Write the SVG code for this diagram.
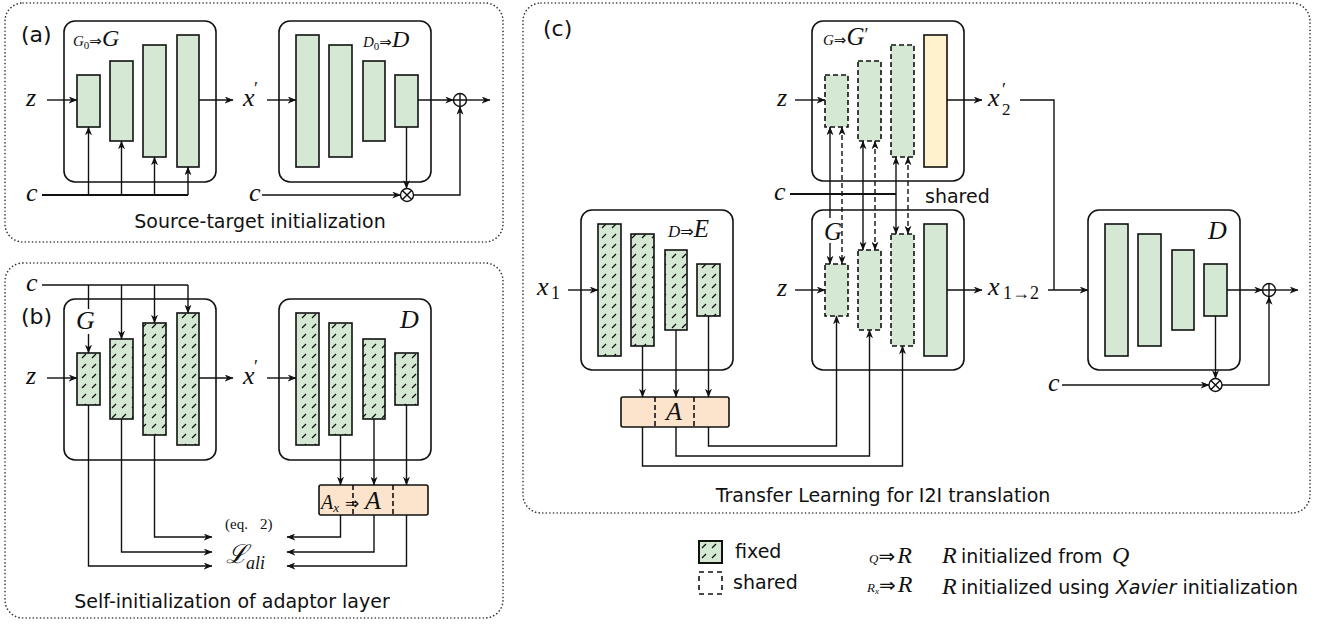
<svg xmlns="http://www.w3.org/2000/svg" width="1320" height="624" viewBox="0 0 1320 624">
<style>
.frame{fill:none;stroke:#333;stroke-width:1.6;stroke-dasharray:0.1 3.5;stroke-linecap:round}
.box{fill:none;stroke:#111;stroke-width:1.6}
.bar{fill:#d5e8d4;stroke:#111;stroke-width:1.6}
.hbar{fill:url(#hatch);stroke:#111;stroke-width:1.6}
.dbar{fill:#d5e8d4;stroke:#111;stroke-width:1.6;stroke-dasharray:5 3}
.ybar{fill:#fff2cc;stroke:#111;stroke-width:1.6}
.abox{fill:#fce4cc;stroke:#111;stroke-width:1.6}
.div{stroke:#111;stroke-width:1.6;stroke-dasharray:5 3}
.c{fill:none;stroke:#111;stroke-width:1.4}
.thick{stroke-width:2.2}
.dash{stroke-dasharray:5 3}
.sans{font-family:"DejaVu Sans",sans-serif;font-size:19px;fill:#111}
.lbl{font-family:"DejaVu Sans",sans-serif;font-size:22px;fill:#111}
.m{font-family:"Liberation Serif","DejaVu Serif",serif;font-style:italic;fill:#111}
.u{font-family:"Liberation Serif","DejaVu Serif",serif;font-style:normal;fill:#111}
.ar{font-family:"DejaVu Sans",sans-serif;font-style:normal;fill:#111}
.op{fill:#fff;stroke:#111;stroke-width:1.4}
</style>
<defs>
<pattern id="hatch" patternUnits="userSpaceOnUse" width="10" height="10">
<rect width="10" height="10" fill="#d5e8d4"/>
<path d="M2,8 L6,4" stroke="#111" stroke-width="1.3"/>
</pattern>
<marker id="ah" viewBox="0 0 10 8" refX="9.5" refY="4" markerWidth="9" markerHeight="7" orient="auto-start-reverse" markerUnits="userSpaceOnUse">
<path d="M0,0 L10,4 L0,8 L3,4 z" fill="#111"/>
</marker>
</defs>

<!-- frames -->
<g id="frames">
<rect class="frame" x="5" y="3" width="498" height="239" rx="18"/>
<rect class="frame" x="5" y="263" width="498" height="355" rx="18"/>
<rect class="frame" x="523" y="3" width="787" height="510" rx="18"/>
</g>

<!-- panel labels and captions -->
<g id="captions">
<text class="lbl" x="21" y="42">(a)</text>
<text class="lbl" x="21" y="324">(b)</text>
<text class="lbl" x="543" y="36">(c)</text>
<text class="sans" x="260" y="228" text-anchor="middle">Source-target initialization</text>
<text class="sans" x="232" y="608" text-anchor="middle">Self-initialization of adaptor layer</text>
<text class="sans" x="883" y="502" text-anchor="middle">Transfer Learning for I2I translation</text>
</g>

<!-- ===== Panel (a) ===== -->
<g id="a_G">
<rect class="box" x="64" y="21" width="152" height="161" rx="11"/>
<rect class="bar" x="77" y="75" width="23" height="52"/>
<rect class="bar" x="110" y="61" width="23" height="80"/>
<rect class="bar" x="143" y="45" width="23" height="112"/>
<rect class="bar" x="177" y="35" width="22" height="132"/>
<text x="73" y="46"><tspan class="m" style="font-size:15px">G</tspan><tspan class="u" style="font-size:11px" dy="3">0</tspan><tspan class="ar" style="font-size:15px" dy="-3">⇒</tspan><tspan class="m" style="font-size:24px">G</tspan></text>
</g>
<g id="a_D">
<rect class="box" x="279" y="21" width="152" height="161" rx="11"/>
<rect class="bar" x="296" y="35" width="23" height="132"/>
<rect class="bar" x="329" y="45" width="23" height="112"/>
<rect class="bar" x="363" y="61" width="22" height="80"/>
<rect class="bar" x="395" y="75" width="23" height="52"/>
<text x="363" y="47"><tspan class="m" style="font-size:15px">D</tspan><tspan class="u" style="font-size:11px" dy="3">0</tspan><tspan class="ar" style="font-size:15px" dy="-3">⇒</tspan><tspan class="m" style="font-size:24px">D</tspan></text>
</g>
<g id="a_labels">
<text class="m" style="font-size:26px" x="26" y="106">z</text>
<text class="m" style="font-size:26px" x="243" y="106">x</text><text class="u" x="254" y="95" style="font-size:18px">′</text>
<text class="m" style="font-size:26px" x="26" y="201">c</text>
<text class="m" style="font-size:26px" x="249" y="201">c</text>
</g>
<g id="a_ops">
<circle class="op" cx="460" cy="100" r="6.5"/><path class="c" d="M453.5,100 H466.5 M460,93.5 V106.5"/>
<circle class="op" cx="407" cy="195" r="6.5"/><path class="c" d="M402.4,190.4 L411.6,199.6 M411.6,190.4 L402.4,199.6"/>
</g>
<g id="a_connectors">
<path class="c" d="M47,100 H77" marker-end="url(#ah)"/>
<path class="c" d="M199,100 H233" marker-end="url(#ah)"/>
<path class="c" d="M267,100 H296" marker-end="url(#ah)"/>
<path class="c thick" d="M42,195 H188"/>
<path class="c" d="M88.5,195 V127" marker-end="url(#ah)"/>
<path class="c" d="M121.5,195 V141" marker-end="url(#ah)"/>
<path class="c" d="M154.5,195 V157" marker-end="url(#ah)"/>
<path class="c" d="M188,195 V167" marker-end="url(#ah)"/>
<path class="c" d="M418,100 H453.5" marker-end="url(#ah)"/>
<path class="c" d="M466.5,100 H490" marker-end="url(#ah)"/>
<path class="c" d="M406.5,127 V188.5" marker-end="url(#ah)"/>
<path class="c" d="M262,195 H400.5" marker-end="url(#ah)"/>
<path class="c" d="M413.5,195 H460 V106.5" marker-end="url(#ah)"/>
</g>

<!-- ===== Panel (b) ===== -->
<g id="b_G">
<rect class="box" x="64" y="299" width="152" height="161" rx="11"/>
<rect class="hbar" x="77" y="353" width="23" height="52"/>
<rect class="hbar" x="110" y="339" width="23" height="80"/>
<rect class="hbar" x="143" y="323" width="23" height="112"/>
<rect class="hbar" x="177" y="313" width="22" height="132"/>
<text class="m" style="font-size:26px" x="76" y="329">G</text>
</g>
<g id="b_D">
<rect class="box" x="279" y="299" width="152" height="161" rx="11"/>
<rect class="hbar" x="296" y="313" width="23" height="132"/>
<rect class="hbar" x="329" y="323" width="23" height="112"/>
<rect class="hbar" x="363" y="339" width="22" height="80"/>
<rect class="hbar" x="395" y="353" width="23" height="52"/>
<text class="m" style="font-size:26px" x="400" y="328">D</text>
</g>
<g id="b_A">
<rect class="abox" x="319" y="485" width="109" height="30" rx="2"/>
<path class="div" d="M353,485 V515 M393,485 V515"/>
<text x="321" y="509"><tspan class="m" style="font-size:20px">A</tspan><tspan class="m" style="font-size:13px" dy="3">x</tspan><tspan class="ar" style="font-size:17px" dy="-3" x="345">⇒</tspan><tspan class="m" style="font-size:26px" x="365">A</tspan></text>
</g>
<g id="b_loss">
<text class="u" x="225" y="529" style="font-size:15px">(eq.</text><text class="u" x="260" y="529" style="font-size:15px">2)</text>
<text x="226" y="563" font-family="DejaVu Serif,serif" font-style="italic" font-size="26" fill="#111">ℒ</text>
<text class="m" x="246" y="569" style="font-size:18px">ali</text>
</g>
<g id="b_labels">
<text class="m" style="font-size:26px" x="26" y="384">z</text>
<text class="m" style="font-size:26px" x="243" y="384">x</text><text class="u" x="254" y="373" style="font-size:18px">′</text>
<text class="m" style="font-size:26px" x="26" y="291">c</text>
</g>
<g id="b_connectors">
<path class="c" d="M47,378 H77" marker-end="url(#ah)"/>
<path class="c" d="M199,378 H233" marker-end="url(#ah)"/>
<path class="c" d="M267,378 H296" marker-end="url(#ah)"/>
<path class="c" d="M42,285 H188"/>
<path class="c" d="M88.5,285 V309"/>
<path class="c" d="M88.5,334 V353" marker-end="url(#ah)"/>
<path class="c" d="M121.5,285 V339" marker-end="url(#ah)"/>
<path class="c" d="M154.5,285 V323" marker-end="url(#ah)"/>
<path class="c" d="M188,285 V313" marker-end="url(#ah)"/>
<path class="c" d="M340.5,435 V485" marker-end="url(#ah)"/>
<path class="c" d="M374,419 V485" marker-end="url(#ah)"/>
<path class="c" d="M406.5,405 V485" marker-end="url(#ah)"/>
<path class="c" d="M340.5,515 V537 H287" marker-end="url(#ah)"/>
<path class="c" d="M374,515 V552 H287" marker-end="url(#ah)"/>
<path class="c" d="M406.5,515 V566 H287" marker-end="url(#ah)"/>
<path class="c" d="M154.5,435 V537 H212" marker-end="url(#ah)"/>
<path class="c" d="M121.5,419 V552 H212" marker-end="url(#ah)"/>
<path class="c" d="M88.5,405 V566 H212" marker-end="url(#ah)"/>
</g>

<!-- ===== Panel (c) ===== -->
<g id="c_Gp">
<rect class="box" x="812" y="21" width="152" height="160" rx="11"/>
<rect class="dbar" x="825" y="75" width="23" height="52"/>
<rect class="dbar" x="858" y="61" width="23" height="80"/>
<rect class="dbar" x="891" y="45" width="23" height="112"/>
<rect class="ybar" x="924" y="35" width="23" height="132"/>
<text x="823" y="45"><tspan class="m" style="font-size:15px">G</tspan><tspan class="ar" style="font-size:15px">⇒</tspan><tspan class="m" style="font-size:25px">G</tspan><tspan class="u" style="font-size:18px" dy="-4">′</tspan></text>
</g>
<g id="c_G">
<rect class="box" x="812" y="210" width="152" height="160" rx="11"/>
<rect class="dbar" x="825" y="264" width="23" height="52"/>
<rect class="dbar" x="858" y="250" width="23" height="80"/>
<rect class="dbar" x="891" y="234" width="23" height="112"/>
<rect class="bar" x="924" y="224" width="23" height="132"/>
<text class="m" x="824" y="240" style="font-size:25px">G</text>
</g>
<g id="c_E">
<rect class="box" x="581" y="210" width="152" height="160" rx="11"/>
<rect class="hbar" x="598" y="224" width="23" height="132"/>
<rect class="hbar" x="631" y="234" width="23" height="112"/>
<rect class="hbar" x="665" y="250" width="22" height="80"/>
<rect class="hbar" x="697" y="264" width="23" height="52"/>
<text x="668" y="237"><tspan class="m" style="font-size:17px">D</tspan><tspan class="ar" style="font-size:16px">⇒</tspan><tspan class="m" style="font-size:25px">E</tspan></text>
</g>
<g id="c_A">
<rect class="abox" x="621" y="397" width="108" height="30" rx="2"/>
<path class="div" d="M655,397 V427 M694,397 V427"/>
<text class="m" x="666" y="420" style="font-size:26px">A</text>
</g>
<g id="c_D">
<rect class="box" x="1088" y="210" width="152" height="160" rx="11"/>
<rect class="bar" x="1105" y="224" width="23" height="132"/>
<rect class="bar" x="1138" y="234" width="23" height="112"/>
<rect class="bar" x="1172" y="250" width="22" height="80"/>
<rect class="bar" x="1204" y="264" width="23" height="52"/>
<text class="m" style="font-size:26px" x="1208" y="239">D</text>
</g>
<g id="c_labels">
<text class="m" style="font-size:26px" x="777" y="106">z</text>
<text class="m" style="font-size:26px" x="777" y="296">z</text>
<text class="m" style="font-size:26px" x="774" y="200">c</text>
<text class="sans" x="925" y="203">shared</text>
<text class="m" style="font-size:26px" x="988" y="106">x</text><text class="u" x="1002" y="96" style="font-size:18px">′</text><text class="u" x="1002" y="115" style="font-size:17px">2</text>
<text class="m" style="font-size:26px" x="988" y="295">x</text><text class="u" x="1003" y="299" style="font-size:18px">1→2</text>
<text class="m" style="font-size:26px" x="537" y="295">x</text><text class="u" x="551" y="299" style="font-size:18px">1</text>
<text class="m" style="font-size:26px" x="1048" y="391">c</text>
</g>
<g id="c_ops">
<circle class="op" cx="1269" cy="290" r="6.5"/><path class="c" d="M1262.5,290 H1275.5 M1269,283.5 V296.5"/>
<circle class="op" cx="1215.5" cy="385" r="6.5"/><path class="c" d="M1210.9,380.4 L1220.1,389.6 M1220.1,380.4 L1210.9,389.6"/>
</g>
<g id="c_connectors">
<path class="c" d="M795,100 H825" marker-end="url(#ah)"/>
<path class="c" d="M795,290 H825" marker-end="url(#ah)"/>
<path class="c" d="M947,100 H982" marker-end="url(#ah)"/>
<path class="c" d="M947,290 H982" marker-end="url(#ah)"/>
<path class="c" d="M1020,100 H1054 V290"/>
<path class="c" d="M1048,290 H1088" marker-end="url(#ah)"/>
<path class="c thick" d="M790,194 H896"/>
<path class="c" d="M830,218 V127" marker-end="url(#ah)"/>
<path class="c" d="M830,243 V264" marker-end="url(#ah)"/>
<path class="c" d="M863,141 V250" marker-start="url(#ah)" marker-end="url(#ah)"/>
<path class="c" d="M896,157 V234" marker-start="url(#ah)" marker-end="url(#ah)"/>
<path class="c dash" d="M842,127 V264" marker-start="url(#ah)" marker-end="url(#ah)"/>
<path class="c dash" d="M875,141 V250" marker-start="url(#ah)" marker-end="url(#ah)"/>
<path class="c dash" d="M908,157 V234" marker-start="url(#ah)" marker-end="url(#ah)"/>
<path class="c" d="M568,290 H598" marker-end="url(#ah)"/>
<path class="c" d="M642.5,346 V397" marker-end="url(#ah)"/>
<path class="c" d="M676,330 V397" marker-end="url(#ah)"/>
<path class="c" d="M708.5,316 V397" marker-end="url(#ah)"/>
<path class="c" d="M708.5,427 V446 H836.5 V316" marker-end="url(#ah)"/>
<path class="c" d="M676,427 V456 H869.5 V330" marker-end="url(#ah)"/>
<path class="c" d="M642.5,427 V466 H902.5 V346" marker-end="url(#ah)"/>
<path class="c" d="M1227,290 H1262.5" marker-end="url(#ah)"/>
<path class="c" d="M1275.5,290 H1298" marker-end="url(#ah)"/>
<path class="c" d="M1215.5,316 V378.5" marker-end="url(#ah)"/>
<path class="c" d="M1062,385 H1209" marker-end="url(#ah)"/>
<path class="c" d="M1222,385 H1269 V296.5" marker-end="url(#ah)"/>
</g>

<!-- ===== Legend ===== -->
<g id="legend">
<rect class="hbar" x="699" y="541" width="23" height="22" style="stroke-width:2"/>
<text class="sans" x="735" y="558">fixed</text>
<rect x="699" y="572" width="23" height="22" fill="none" stroke="#111" stroke-width="1.6" stroke-dasharray="5 4"/>
<text class="sans" x="733" y="589">shared</text>
<text x="869" y="563"><tspan class="m" style="font-size:13px">Q</tspan><tspan class="ar" style="font-size:20px">⇒</tspan><tspan class="m" style="font-size:24px" dx="2">R</tspan></text>
<text class="m" x="942" y="563" style="font-size:24px">R</text>
<text class="sans" x="961" y="563">initialized from</text>
<text class="m" x="1112" y="563" style="font-size:24px">Q</text>
<text x="867" y="592"><tspan class="m" style="font-size:13px">R</tspan><tspan class="m" style="font-size:9px" dy="2">x</tspan><tspan class="ar" style="font-size:20px" dy="-2">⇒</tspan><tspan class="m" style="font-size:24px" dx="2">R</tspan></text>
<text class="m" x="942" y="594" style="font-size:24px">R</text>
<text class="sans" x="961" y="594">initialized using <tspan font-style="italic">Xavier</tspan> initialization</text>
</g>
</svg>
